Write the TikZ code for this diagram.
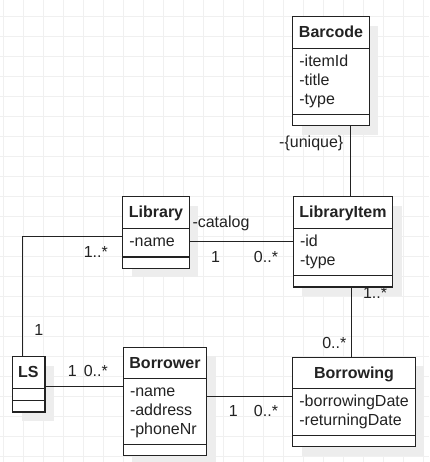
\documentclass[tikz,border=0pt]{standalone}
\usepackage{fontspec}
\setmainfont{Liberation Sans}
\usepackage{xcolor}
\usetikzlibrary{shadows}
\definecolor{ink}{HTML}{222222}
\definecolor{gridc}{HTML}{F0F0F0}
\definecolor{shade}{HTML}{EDEDED}
\tikzset{
  base/.style={draw=ink, line width=1.2pt},
  gridline/.style={draw=gridc, line width=0.8pt},
  cls/.style={base, fill=white, anchor=north west, inner sep=0pt, outer sep=0pt,
    drop shadow={shadow xshift=9pt, shadow yshift=-9pt, fill=shade, opacity=1}},
  clsname/.style={text=ink, font=\bfseries\fontsize{16}{19}\selectfont, inner sep=0pt, anchor=base},
  clsattr/.style={text=ink, font=\fontsize{16}{19}\selectfont, inner sep=0pt, anchor=base west},
  lab/.style={text=ink, font=\fontsize{16}{19}\selectfont, inner sep=0pt}
}
\begin{document}
\begin{tikzpicture}[x=1pt, y=-1pt]
  \useasboundingbox (0,0) rectangle (429,462);
  \fill[white] (0,0) rectangle (429,462);
  % background grid
  \foreach \gx in {3.3,23.3,...,423.3}
    \draw[gridline] (\gx,0) -- (\gx,462);
  \foreach \gy in {16.7,36.7,...,456.7}
    \draw[gridline] (0,\gy) -- (429,\gy);

  % class frames
  \node[cls, minimum width=76.6pt, minimum height=109pt] (barcode) at (292.7,16.7) {};
  \node[cls, minimum width=66.6pt, minimum height=71.6pt] (library) at (122.7,196.7) {};
  \node[cls, minimum width=99.4pt, minimum height=90.3pt] (libitem) at (293.3,196.7) {};
  \node[cls, minimum width=83.4pt, minimum height=108.4pt] (borrower) at (123.3,347.3) {};
  \node[cls, minimum width=122.6pt, minimum height=89.4pt] (borrowing) at (292.7,357.3) {};
  \node[cls, minimum width=32.3pt, minimum height=55.3pt] (ls) at (12.7,356.7) {};
  \foreach \c in {barcode,library,libitem,borrower,borrowing,ls} {
    \draw[base] ([yshift=-31.5pt]\c.north west) -- ([yshift=-31.5pt]\c.north east);
    \draw[base] ([yshift=11.3pt]\c.south west) -- ([yshift=11.3pt]\c.south east);
  }

  % class names
  \node[clsname] (barcodeT) at (331,37.5) {Barcode};
  \node[clsname] (libraryT) at (156,217.5) {Library};
  \node[clsname] (libitemT) at (343,217.5) {LibraryItem};
  \node[clsname] (borrowerT) at (165,368) {Borrower};
  \node[clsname] (borrowingT) at (354,378) {Borrowing};
  \node[clsname] (lsT) at (28.4,377.5) {LS};

  % attributes
  \node[clsattr] (barcodeA) at (299.2,66.7) {-itemId};
  \node[clsattr] (barcodeB) at (299.2,85.5) {-title};
  \node[clsattr] (barcodeC) at (299.2,104.3) {-type};
  \node[clsattr] (libraryA) at (129.2,246.7) {-name};
  \node[clsattr] (libitemA) at (299.8,246.7) {-id};
  \node[clsattr] (libitemB) at (299.8,265.5) {-type};
  \node[clsattr] (borrowerA) at (129.8,396.7) {-name};
  \node[clsattr] (borrowerB) at (129.8,415.5) {-address};
  \node[clsattr] (borrowerC) at (129.8,434.3) {-phoneNr};
  \node[clsattr] (borrowingA) at (299.2,406.8) {-borrowingDate};
  \node[clsattr] (borrowingB) at (299.2,425.6) {-returningDate};

  % associations
  \draw[base] (barcode.south -| 350.3,0) -- (libitem.north -| 350.3,0);
  \draw[base] (library.east |- 0,241.7) -- (libitem.west |- 0,241.7);
  \draw[base] (ls.north -| 22.7,0) |- (library.west |- 0,236.7);
  \draw[base] (ls.east |- 0,386.7) -- (borrower.west |- 0,386.7);
  \draw[base] (borrower.east |- 0,396.7) -- (borrowing.west |- 0,396.7);
  \draw[base] (libitem.south -| 351.7,0) -- (borrowing.north -| 351.7,0);

  % role names and multiplicities
  \node[lab, anchor=east] (unique) at (343.5,143.7) {-\{unique\}};
  \node[lab, anchor=west] (catalog) at (192.3,223.3) {-catalog};
  \node[lab] (libOne) at (215.5,256.7) {1};
  \node[lab] (itemMany) at (266,256.7) {0..*};
  \node[lab] (libMany) at (95.8,251.7) {1..*};
  \node[lab] (lsOne) at (38.8,330) {1};
  \node[lab] (lsOneB) at (72.2,370.8) {1};
  \node[lab] (borrowerMany) at (95.8,370.8) {0..*};
  \node[lab] (itemSome) at (375,292.5) {1..*};
  \node[lab] (borrowingMany) at (334.3,342.5) {0..*};
  \node[lab] (borrowerOne) at (233.3,411.2) {1};
  \node[lab] (borrowingManyB) at (266,411.2) {0..*};
\end{tikzpicture}
\end{document}
